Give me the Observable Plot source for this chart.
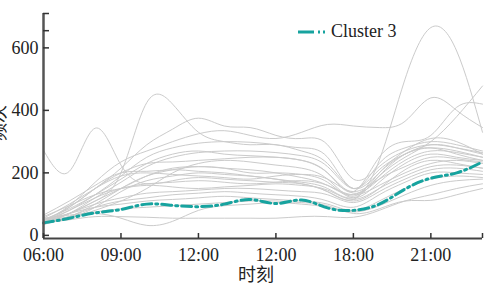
<!DOCTYPE html>
<html><head><meta charset="utf-8">
<script src="https://cdn.jsdelivr.net/npm/d3@7"></script>
<script src="https://cdn.jsdelivr.net/npm/@observablehq/plot@0.6"></script>
<style>
html,body{margin:0;padding:0;background:#fff;}
#wrap{position:relative;width:495px;height:291px;}
#legend{position:absolute;left:297px;top:21px;display:flex;align-items:center;z-index:2;}
#legendText{font-family:'Liberation Serif','Times New Roman',serif;font-size:18px;color:#222;margin-left:4px;}
</style></head><body>
<div id="wrap"><div id="legend"><svg width="30" height="8"><line x1="1" y1="4" x2="29" y2="4" stroke="#17a39f" stroke-width="3" stroke-dasharray="16,4,2,3,2,3"/></svg><span id="legendText"></span></div></div>
<script>
const hours = [6,7,8,9,10,11,12,13,14,15,16,17,18,19,20,21,22,23];
const clusterName = "Cluster 3";
const clusterMean = [40,55,72,83,100,96,92,100,115,102,113,88,80,100,148,183,200,235];
const grayProfiles = [
  [272,205,343,225,165,175,185,180,175,170,165,140,110,150,210,240,230,215],
  [45,70,110,200,425,420,330,300,290,290,270,230,150,200,260,280,270,250],
  [40,90,150,215,290,340,375,350,345,320,310,290,180,220,270,290,280,265],
  [45,95,170,235,270,300,325,335,320,310,330,355,350,345,365,440,400,345],
  [40,55,90,140,175,190,200,195,190,180,165,140,115,240,500,665,590,330],
  [35,60,100,150,190,210,220,215,210,200,185,160,130,190,250,300,380,478],
  [50,85,130,180,230,260,270,260,255,250,240,200,140,250,300,320,410,420],
  [40,80,130,190,250,280,295,300,298,290,280,250,150,230,280,300,290,270],
  [35,70,120,170,220,250,265,270,270,265,255,220,150,210,260,290,280,260],
  [50,90,150,200,230,235,240,245,250,250,240,200,135,180,240,270,265,250],
  [40,70,110,150,190,215,220,215,200,200,195,170,120,170,230,260,250,240],
  [55,100,150,190,200,195,190,185,180,190,195,180,140,180,220,250,245,235],
  [45,80,120,150,165,170,175,170,165,170,175,160,130,160,200,230,240,230],
  [60,95,130,150,160,155,150,155,160,165,160,145,115,150,190,220,225,215],
  [40,70,100,120,135,140,145,150,150,145,140,130,105,140,180,210,215,205],
  [35,60,90,110,120,130,135,140,135,130,125,110,90,130,170,200,200,195],
  [50,70,90,100,110,115,120,125,120,115,110,100,80,110,150,180,190,185],
  [55,65,70,55,32,45,80,95,100,105,100,90,75,95,130,160,175,180],
  [40,50,60,60,58,55,55,55,55,55,60,60,58,80,110,130,150,165],
  [45,60,75,85,90,95,100,105,110,110,105,95,70,85,110,112,130,150],
  [65,110,160,200,205,210,205,200,190,180,170,150,120,190,260,280,260,240],
  [38,55,80,110,150,200,230,240,235,225,215,180,125,200,270,310,300,260]
];
const xTicks = [6,9,12,15,18,21,23];
const xTickLabels = ["06:00","09:00","12:00","12:00","18:00","21:00",""];
const yTicks = [0,200,400,600,655,710];
const yTickLabels = ["0","200","400","600","",""];
const xDomain = [6,23];
const yDomain = [-10,710];
const xTitle = "时刻";
const yTitle = "频次";

document.getElementById("legendText").textContent = clusterName;

const grayRows = grayProfiles.flatMap((vals,i)=>vals.map((v,j)=>({id:i,hour:hours[j],value:v})));
const meanRows = clusterMean.map((v,j)=>({hour:hours[j],value:v}));
const serif = "'Liberation Serif', 'Times New Roman', serif";
const cjk = "'Noto Sans CJK SC', sans-serif";

const chart = Plot.plot({
  width:495, height:291,
  marginLeft:43, marginRight:13, marginTop:13, marginBottom:53,
  x:{domain:xDomain},
  y:{domain:yDomain},
  style:{fontFamily:serif, fontSize:"18px", color:"#222", background:"#fff"},
  marks:[
    Plot.line(grayRows,{x:"hour",y:"value",z:"id",stroke:"#cbcbcb",strokeWidth:1,curve:"natural"}),
    Plot.line(meanRows,{x:"hour",y:"value",stroke:"#17a39f",strokeWidth:3,strokeDasharray:"10,4,2,4",curve:"natural"}),
    Plot.ruleY([yDomain[0]],{stroke:"#444",strokeWidth:2}),
    Plot.ruleX([xDomain[0]],{stroke:"#555",strokeWidth:2.5}),
    Plot.axisX(xTicks,{tickSize:-5,tickPadding:15,tickFormat:d=>xTickLabels[xTicks.indexOf(d)],stroke:"#333",strokeWidth:1.5,fill:"#222",fontSize:18,label:null}),
    Plot.axisY(yTicks,{tickSize:-6,tickPadding:11,tickFormat:d=>yTickLabels[yTicks.indexOf(d)],stroke:"#333",strokeWidth:1.5,fill:"#222",fontSize:18,label:null}),
    Plot.text([xTitle],{text:d=>d,frameAnchor:"bottom",dy:42,dx:-7,fontSize:18,fontFamily:cjk,fill:"#222"}),
    Plot.text([yTitle],{text:d=>d,frameAnchor:"left",dx:-44,dy:15,rotate:-90,fontSize:18,fontFamily:cjk,fill:"#222"})
  ]
});
document.getElementById("wrap").appendChild(chart);
</script>
</body></html>
